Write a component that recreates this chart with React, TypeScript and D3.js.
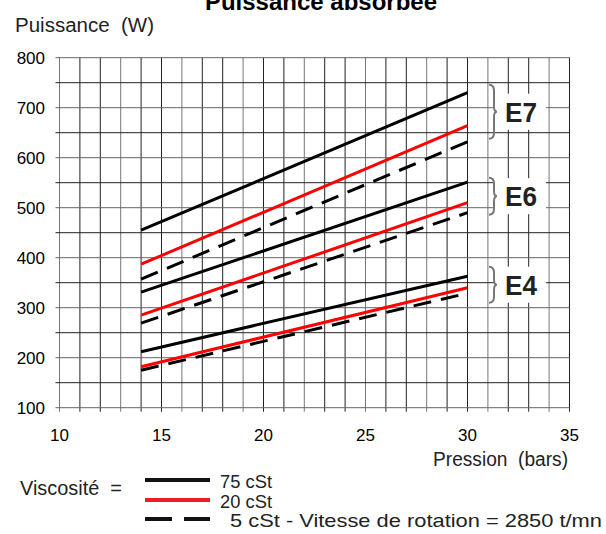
import { useEffect, useRef } from "react";
import * as d3 from "d3";

// Pressure range covered by every curve (bars)
const pressures = [14, 30];

// Absorbed power (W) at 14 and 30 bars
const E7_75 = [455, 730];
const E7_20 = [387, 664];
const E7_5 = [357, 632];
const E6_75 = [331, 551];
const E6_20 = [285, 510];
const E6_5 = [269, 490];
const E4_75 = [212, 363];
const E4_20 = [182, 340];
const E4_5 = [175, 329];

const pumps = ["E7", "E6", "E4"];
const viscosities = ["75 cSt", "20 cSt", "5 cSt"];
const seriesByPump = [
  [E7_75, E7_20, E7_5],
  [E6_75, E6_20, E6_5],
  [E4_75, E4_20, E4_5],
];
// brace extents (W) per pump group
const braceRanges = [
  [746, 638],
  [560, 486],
  [382, 310],
];

const xTicks = [10, 15, 20, 25, 30, 35];
const yTicks = [100, 200, 300, 400, 500, 600, 700, 800];

const WIDTH = 606;
const HEIGHT = 534;

export default function App() {
  const svgRef = useRef<SVGSVGElement | null>(null);

  useEffect(() => {
    const svg = svgRef.current;
    if (!svg) return;
    svg.innerHTML = "";
    const root = d3.select(svg);

    const x = d3.scaleLinear().domain([10, 35]).range([59.5, 569.5]);
    const y = d3.scaleLinear().domain([100, 800]).range([407.7, 57.7]);
    const font = "'Liberation Sans', Arial, sans-serif";

    // grid
    const grid = root.append("g");
    d3.range(10, 36).forEach((v) => {
      grid.append("line")
        .attr("x1", x(v)).attr("x2", x(v))
        .attr("y1", y(800)).attr("y2", y(100) + 4)
        .attr("stroke", v % 3 === 1 ? "#777" : "#222")
        .attr("stroke-width", 1);
    });
    d3.range(100, 801, 50).forEach((v) => {
      grid.append("line")
        .attr("x1", x(10) - 4).attr("x2", x(35))
        .attr("y1", y(v)).attr("y2", y(v))
        .attr("stroke", v % 100 === 0 ? "#666" : "#222")
        .attr("stroke-width", 1);
    });

    // white patches behind group labels
    pumps.forEach((_, i) => {
      const [hi, lo] = braceRanges[i];
      const cy = (y(hi) + y(lo)) / 2;
      root.append("rect")
        .attr("x", 494).attr("y", cy - 18)
        .attr("width", 52).attr("height", 36)
        .attr("fill", "#fff");
    });

    // axis labels
    root.append("g").selectAll("text").data(yTicks).join("text")
      .attr("x", 45).attr("y", (d) => y(d) + 6)
      .attr("text-anchor", "end")
      .style("font-family", font).style("font-size", "17px")
      .text((d) => d);
    root.append("g").selectAll("text").data(xTicks).join("text")
      .attr("x", (d) => x(d)).attr("y", 441)
      .attr("text-anchor", "middle")
      .style("font-family", font).style("font-size", "17px")
      .text((d) => d);

    // curves
    const colors = ["#000", "#ff0000", "#000"];
    const line = d3.line<[number, number]>().x((d) => x(d[0])).y((d) => y(d[1]));
    seriesByPump.forEach((group) => {
      group.forEach((vals, j) => {
        root.append("path")
          .attr("d", line(pressures.map((p, k) => [p, vals[k]] as [number, number])))
          .attr("fill", "none")
          .attr("stroke", colors[j])
          .attr("stroke-width", 3)
          .attr("stroke-dasharray", j === 2 ? "18,10" : null);
      });
    });

    // braces + labels
    pumps.forEach((name, i) => {
      const [hi, lo] = braceRanges[i];
      const t = y(hi), b = y(lo), m = (t + b) / 2;
      const x0 = 489, x1 = 497;
      root.append("path")
        .attr("d",
          `M${x0},${t} Q${x0 + 5},${t} ${x0 + 5},${t + 6} L${x0 + 5},${m - 5} Q${x0 + 5},${m} ${x1},${m}` +
          ` Q${x0 + 5},${m} ${x0 + 5},${m + 5} L${x0 + 5},${b - 6} Q${x0 + 5},${b} ${x0},${b}`)
        .attr("fill", "none")
        .attr("stroke", "#777")
        .attr("stroke-width", 2);
      root.append("text")
        .attr("x", 505).attr("y", m + 10)
        .attr("textLength", 32).attr("lengthAdjust", "spacingAndGlyphs")
        .style("font-family", font).style("font-size", "27px").style("font-weight", "bold")
        .attr("fill", "#222")
        .text(name);
    });

    // titles
    root.append("text")
      .attr("x", 321).attr("y", 10).attr("text-anchor", "middle")
      .style("font-family", font).style("font-size", "24px").style("font-weight", "bold")
      .text("Puissance absorbée");
    root.append("text")
      .attr("x", 15).attr("y", 32)
      .attr("textLength", 139).attr("lengthAdjust", "spacingAndGlyphs")
      .style("font-family", font).style("font-size", "20px").style("white-space", "pre")
      .attr("fill", "#222")
      .text("Puissance  (W)");
    root.append("text")
      .attr("x", 433).attr("y", 466)
      .attr("textLength", 135).attr("lengthAdjust", "spacingAndGlyphs")
      .style("font-family", font).style("font-size", "20px").style("white-space", "pre")
      .attr("fill", "#222")
      .text("Pression  (bars)");

    // legend
    root.append("text")
      .attr("x", 20).attr("y", 495)
      .attr("textLength", 102).attr("lengthAdjust", "spacingAndGlyphs")
      .style("font-family", font).style("font-size", "20px").style("white-space", "pre")
      .attr("fill", "#222")
      .text("Viscosité  =");
    const legendY = [480, 500, 519];
    const legendColors = ["#111", "#ee1c25", "#111"];
    const legendText = [viscosities[0], viscosities[1], viscosities[2] + " - Vitesse de rotation = 2850 t/mn"];
    const legendX = [220, 220, 230];
    const legendLen = [52, 52, 372];
    legendY.forEach((ly, i) => {
      root.append("line")
        .attr("x1", 145).attr("x2", 210)
        .attr("y1", ly).attr("y2", ly)
        .attr("stroke", legendColors[i])
        .attr("stroke-width", 4)
        .attr("stroke-dasharray", i === 2 ? "27,12" : null);
      root.append("text")
        .attr("x", legendX[i]).attr("y", ly + 8)
        .attr("textLength", legendLen[i]).attr("lengthAdjust", "spacingAndGlyphs")
        .style("font-family", font).style("font-size", "19px")
        .attr("fill", "#222")
        .text(legendText[i]);
    });
  }, []);

  return (
    <div style={{ position: "absolute", left: 0, top: 0 }}>
      <svg ref={svgRef} width={WIDTH} height={HEIGHT} style={{ display: "block" }} />
    </div>
  );
}
